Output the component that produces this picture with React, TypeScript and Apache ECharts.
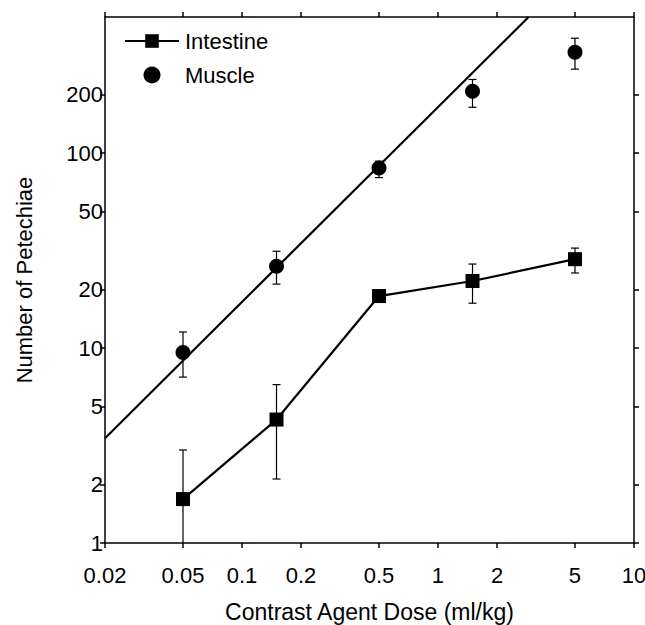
import React, { useEffect, useRef } from "react";
import * as echarts from "echarts";

// Doses (ml/kg)
const doses = [0.05, 0.15, 0.5, 1.5, 5];
// Intestine: mean, lower, upper
const intestineMean = [1.68, 4.3, 18.5, 22.1, 28.6];
const intestineLow = [0.4, 2.13, 18.5, 17.0, 24.3];
const intestineHigh = [3.0, 6.5, 18.5, 27.0, 32.6];
// Muscle: mean, lower, upper
const muscleMean = [9.5, 26.3, 84, 208, 330];
const muscleLow = [7.1, 21.3, 75, 172, 270];
const muscleHigh = [12.1, 31.4, 91, 239, 389];
// Regression line for muscle (endpoints)
const fitX = [0.02, 2.9];
const fitY = [3.45, 500];
// Tick values
const xTicks = [0.02, 0.05, 0.1, 0.2, 0.5, 1, 2, 5, 10];
const yTicks = [1, 2, 5, 10, 20, 50, 100, 200];

const FONT = "'Liberation Sans', Arial, Helvetica, sans-serif";

const fmt = (v: number) => String(Number(Number(v).toPrecision(4)));

export default function App() {
  const ref = useRef<HTMLDivElement>(null);
  useEffect(() => {
    if (!ref.current) return;
    const chart = echarts.init(ref.current, undefined, { renderer: "svg" });

    const errData = (lo: number[], hi: number[]) =>
      doses.map((d, i) => [d, lo[i], hi[i]]);

    const errRender = (params: any, api: any) => {
      const x = api.value(0);
      const lo = api.coord([x, api.value(1)]);
      const hi = api.coord([x, api.value(2)]);
      const w = 4;
      const style = { stroke: "#000", lineWidth: 1.2 };
      return {
        type: "group",
        children: [
          { type: "line", shape: { x1: lo[0], y1: lo[1], x2: hi[0], y2: hi[1] }, style },
          { type: "line", shape: { x1: hi[0] - w, y1: hi[1], x2: hi[0] + w, y2: hi[1] }, style },
          { type: "line", shape: { x1: lo[0] - w, y1: lo[1], x2: lo[0] + w, y2: lo[1] }, style },
        ],
      };
    };

    const axisCommon = {
      type: "log" as const,
      logBase: 10,
      axisLine: { show: true, lineStyle: { color: "#000", width: 1.5 } },
      splitLine: { show: false },
      minorTick: { show: false },
    };

    chart.setOption({
      animation: false,
      backgroundColor: "#fff",
      textStyle: { fontFamily: FONT },
      grid: { left: 105, right: 11, top: 17, bottom: 82, containLabel: false, outerBoundsMode: "none" },
      legend: {
        orient: "vertical",
        left: 119,
        top: 25,
        itemWidth: 54,
        itemHeight: 17,
        itemGap: 12,
        data: ["Intestine", "Muscle"],
        textStyle: { fontSize: 22, color: "#000", fontFamily: FONT, padding: [0, 0, 0, 1] },
        selectedMode: false,
      },
      xAxis: [
        {
          ...axisCommon,
          position: "bottom",
          min: 0.02,
          max: 10,
          name: "Contrast Agent Dose (ml/kg)",
          nameLocation: "middle",
          nameGap: 57,
          nameTextStyle: { fontSize: 23, color: "#000", fontFamily: FONT },
          axisTick: { show: true, length: 5, inside: false, customValues: xTicks, lineStyle: { color: "#000", width: 1.5 } },
          axisLabel: { customValues: xTicks, fontSize: 22, color: "#000", margin: 21, formatter: fmt, fontFamily: FONT },
        },
        {
          ...axisCommon,
          position: "top",
          min: 0.02,
          max: 10,
          axisTick: { show: true, length: 5, inside: false, customValues: xTicks, lineStyle: { color: "#000", width: 1.5 } },
          axisLabel: { show: false },
        },
      ],
      yAxis: [
        {
          ...axisCommon,
          position: "left",
          min: 1,
          max: 500,
          name: "Number of Petechiae",
          nameLocation: "middle",
          nameGap: 70,
          nameTextStyle: { fontSize: 22, color: "#000", fontFamily: FONT },
          axisTick: { show: true, length: 5, inside: false, customValues: yTicks, lineStyle: { color: "#000", width: 1.5 } },
          axisLabel: { customValues: yTicks, fontSize: 22, color: "#000", margin: 2, formatter: fmt, fontFamily: FONT },
        },
        {
          ...axisCommon,
          position: "right",
          min: 1,
          max: 500,
          axisTick: { show: true, length: 5, inside: false, customValues: yTicks, lineStyle: { color: "#000", width: 1.5 } },
          axisLabel: { show: false },
        },
      ],
      series: [
        {
          type: "custom",
          name: "IntestineErr",
          renderItem: errRender,
          data: errData(intestineLow, intestineHigh),
          clip: true,
          silent: true,
          z: 1,
        },
        {
          type: "custom",
          name: "MuscleErr",
          renderItem: errRender,
          data: errData(muscleLow, muscleHigh),
          clip: true,
          silent: true,
          z: 1,
        },
        {
          type: "line",
          name: "MuscleFit",
          data: fitX.map((x, i) => [x, fitY[i]]),
          showSymbol: false,
          symbol: "none",
          lineStyle: { color: "#000", width: 2.2 },
          clip: true,
          silent: true,
          z: 2,
        },
        {
          type: "line",
          name: "Intestine",
          data: doses.map((d, i) => [d, intestineMean[i]]),
          symbol: "rect",
          symbolSize: 14,
          itemStyle: { color: "#000" },
          lineStyle: { color: "#000", width: 2.2 },
          z: 3,
        },
        {
          type: "scatter",
          name: "Muscle",
          data: doses.map((d, i) => [d, muscleMean[i]]),
          symbol: "circle",
          symbolSize: 15,
          itemStyle: { color: "#000", opacity: 1 },
          z: 3,
        },
      ],
    });
    return () => chart.dispose();
  }, []);
  return (
    <div
      ref={ref}
      style={{ position: "fixed", left: 0, top: 0, width: 645, height: 625, background: "#fff" }}
    />
  );
}
